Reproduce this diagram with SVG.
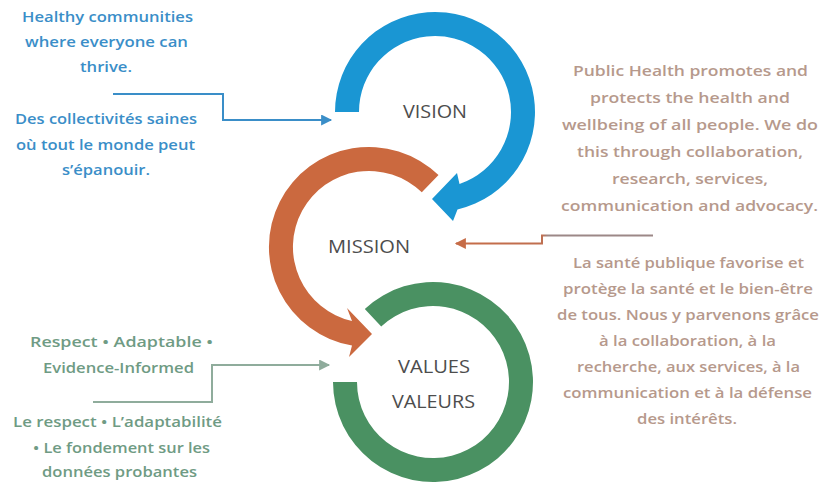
<svg xmlns="http://www.w3.org/2000/svg" width="838" height="484" viewBox="0 0 838 484">
  <defs>
    <style>
      text { font-family: "Open Sans", "Liberation Sans", sans-serif; font-size: 15px; font-weight: 600; }
      .lbl { font-size: 18px; font-weight: 500; fill: #4d4d4d; }
      .vis { fill: #3a8ec8; }
      .mis { fill: #b6998c; }
      .val { fill: #6f9b84; }
      .ring-blue { fill: #1a96d3; }
      .ring-orange { fill: #cb693f; }
      .ring-green { fill: #4a9162; }
      .conn { fill: none; stroke-width: 2; }
    </style>
    <marker id="ahBlue" viewBox="0 0 10 10" refX="9" refY="5" markerWidth="7" markerHeight="5.5" markerUnits="strokeWidth" orient="auto">
      <path d="M0,0 L10,5 L0,10 Z" fill="#3a8ec8"/>
    </marker>
    <marker id="ahOrange" viewBox="0 0 10 10" refX="9" refY="5" markerWidth="7" markerHeight="5.5" markerUnits="strokeWidth" orient="auto">
      <path d="M0,0 L10,5 L0,10 Z" fill="#c66c47"/>
    </marker>
    <marker id="ahGreen" viewBox="0 0 10 10" refX="9" refY="5" markerWidth="7" markerHeight="5.5" markerUnits="strokeWidth" orient="auto">
      <path d="M0,0 L10,5 L0,10 Z" fill="#8fac9c"/>
    </marker>
    <linearGradient id="missionLine" gradientUnits="userSpaceOnUse" x1="455" y1="0" x2="653" y2="0">
      <stop offset="0" stop-color="#c66c47"/>
      <stop offset="0.44" stop-color="#c06f50"/>
      <stop offset="0.47" stop-color="#9c8887"/>
      <stop offset="1" stop-color="#9c8887"/>
    </linearGradient>
  </defs>

  <!-- Vision ring: blue circular arrow -->
  <g id="vision">
    <path class="ring-blue" d="M335,112 A100,100 0 1 1 457.5,209.4 L453,221 L432,199 L457,173 L459.5,183.9 A76,76 0 1 0 359,112 Z"/>
    <text class="lbl" x="403" y="118" textLength="64" lengthAdjust="spacingAndGlyphs">VISION</text>
  </g>

  <!-- Mission ring: orange circular arrow -->
  <g id="mission">
    <path class="ring-orange" d="M438.5,175.1 A100,100 0 1 0 352,345.5 L349,357 L372,334 L347,308 L352,321 A76,76 0 1 1 421.8,192.3 Z"/>
    <text class="lbl" x="328" y="253" textLength="82" lengthAdjust="spacingAndGlyphs">MISSION</text>
  </g>

  <!-- Values ring: green open ring -->
  <g id="values">
    <path class="ring-green" d="M364.8,308.9 A100,100 0 1 1 333,382 L357,382 A76,76 0 1 0 381.2,326.4 Z"/>
    <text class="lbl" x="398" y="373" textLength="72" lengthAdjust="spacingAndGlyphs">VALUES</text>
    <text class="lbl" x="392" y="408" textLength="83" lengthAdjust="spacingAndGlyphs">VALEURS</text>
  </g>

  <!-- Vision statement -->
  <g id="vision-text">
    <text class="vis" x="22" y="22" textLength="171" lengthAdjust="spacingAndGlyphs">Healthy communities</text>
    <text class="vis" x="25" y="47" textLength="163" lengthAdjust="spacingAndGlyphs">where everyone can</text>
    <text class="vis" x="80" y="72" textLength="52" lengthAdjust="spacingAndGlyphs">thrive.</text>
    <text class="vis" x="15" y="124" textLength="182" lengthAdjust="spacingAndGlyphs">Des collectivités saines</text>
    <text class="vis" x="16" y="150" textLength="179" lengthAdjust="spacingAndGlyphs">où tout le monde peut</text>
    <text class="vis" x="62" y="175" textLength="88" lengthAdjust="spacingAndGlyphs">s’épanouir.</text>
  </g>

  <!-- Mission statement -->
  <g id="mission-text">
    <text class="mis" x="573" y="76" textLength="235" lengthAdjust="spacingAndGlyphs">Public Health promotes and</text>
    <text class="mis" x="590" y="103" textLength="200" lengthAdjust="spacingAndGlyphs">protects the health and</text>
    <text class="mis" x="562" y="130" textLength="256" lengthAdjust="spacingAndGlyphs">wellbeing of all people. We do</text>
    <text class="mis" x="577" y="157" textLength="226" lengthAdjust="spacingAndGlyphs">this through collaboration,</text>
    <text class="mis" x="612" y="184" textLength="156" lengthAdjust="spacingAndGlyphs">research, services,</text>
    <text class="mis" x="561" y="211" textLength="257" lengthAdjust="spacingAndGlyphs">communication and advocacy.</text>
    <text class="mis" x="573" y="268" textLength="231" lengthAdjust="spacingAndGlyphs">La santé publique favorise et</text>
    <text class="mis" x="563" y="294" textLength="250" lengthAdjust="spacingAndGlyphs">protège la santé et le bien-être</text>
    <text class="mis" x="557" y="320" textLength="262" lengthAdjust="spacingAndGlyphs">de tous. Nous y parvenons grâce</text>
    <text class="mis" x="599" y="346" textLength="177" lengthAdjust="spacingAndGlyphs">à la collaboration, à la</text>
    <text class="mis" x="577" y="372" textLength="223" lengthAdjust="spacingAndGlyphs">recherche, aux services, à la</text>
    <text class="mis" x="563" y="398" textLength="249" lengthAdjust="spacingAndGlyphs">communication et à la défense</text>
    <text class="mis" x="637" y="424" textLength="100" lengthAdjust="spacingAndGlyphs">des intérêts.</text>
  </g>

  <!-- Values statement -->
  <g id="values-text">
    <text class="val" x="30" y="347" textLength="183" lengthAdjust="spacingAndGlyphs">Respect • Adaptable •</text>
    <text class="val" x="43" y="373" textLength="151" lengthAdjust="spacingAndGlyphs">Evidence-Informed</text>
    <text class="val" x="13" y="427" textLength="209" lengthAdjust="spacingAndGlyphs">Le respect • L’adaptabilité</text>
    <text class="val" x="33" y="453" textLength="177" lengthAdjust="spacingAndGlyphs">• Le fondement sur les</text>
    <text class="val" x="42" y="477" textLength="155" lengthAdjust="spacingAndGlyphs">données probantes</text>
  </g>

  <!-- Elbow connectors from statements to rings -->
  <g id="connectors">
    <path class="conn" stroke="#3a8ec8" d="M113,94 H223 V120 H331" marker-end="url(#ahBlue)"/>
    <path class="conn" stroke="url(#missionLine)" d="M653,235.5 H542 V243.5 H456" marker-end="url(#ahOrange)"/>
    <path class="conn" stroke="#8fac9c" d="M93,402 H212 V365 H329" marker-end="url(#ahGreen)"/>
  </g>
</svg>
